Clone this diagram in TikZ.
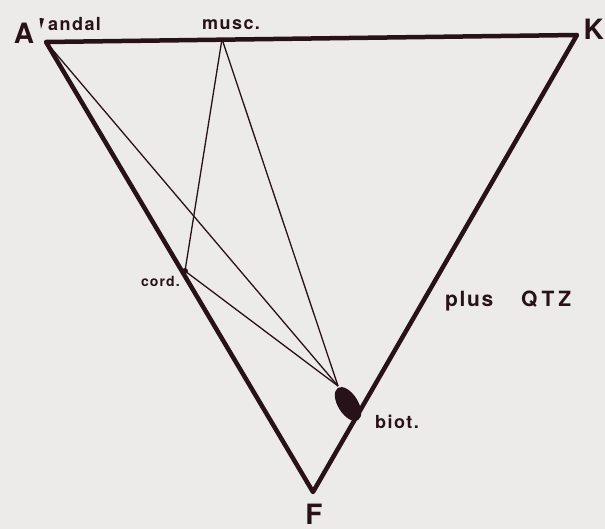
\documentclass[tikz,border=0pt]{standalone}
\usepackage{fontspec}
\newfontfamily\labfont[LetterSpace=8]{TeX Gyre Heros}
\definecolor{ink}{RGB}{38,18,24}
\definecolor{paper}{RGB}{237,235,234}
\tikzset{
  edge/.style={draw=ink,line width=4.5pt,line join=round,line cap=round},
  tie/.style={draw=ink,line width=1.3pt},
  lab/.style={text=ink,inner sep=0pt,font=\labfont\bfseries\fontsize{18}{18}\selectfont},
  biglab/.style={text=ink,inner sep=0pt,font=\labfont\bfseries\fontsize{28}{28}\selectfont}
}
\begin{document}
\begin{tikzpicture}[x=1pt,y=-1pt]
\fill[paper] (0,0) rectangle (605,529);
\useasboundingbox (0,0) rectangle (605,529);
% vertices
\coordinate (A) at (46,42);
\coordinate (K) at (577,35);
\coordinate (F) at (313,492);
\coordinate (musc) at (222,39);
\coordinate (cord) at (185,271);
\coordinate (biot) at (338,386);
% tie lines
\draw[tie] (musc) -- (cord);
\draw[tie] (musc) -- (biot);
\draw[tie] (A) -- (biot);
\draw[tie] (cord) -- (biot);
% triangle
\draw[edge] (A) -- (K) -- (F) -- cycle;
% phase points
\fill[ink] (cord) circle (3pt);
\fill[ink, rotate around={32:(348,404)}] (348,404) ellipse (10pt and 19pt);
% labels
\node[biglab] (lA) at (24,33) {A};
\fill[ink] (39.5,18) -- (44,18.5) -- (41,29) -- cycle;
\node[lab,anchor=base west] (landal) at (48,31) {andal};
\node[lab,anchor=base west] (lmusc) at (202,30) {musc.};
\node[biglab,anchor=base east] (lK) at (604,40) {K};
\node[biglab,anchor=base] (lF) at (314,524) {F};
\node[lab,font=\labfont\bfseries\fontsize{14}{14}\selectfont,anchor=base east] (lcord) at (180,287) {cord.};
\node[lab,font=\labfont\bfseries\fontsize{21}{21}\selectfont,anchor=base west] (lplus) at (445,307) {plus};
\node[lab,font=\labfont\bfseries\fontsize{21}{21}\selectfont,anchor=base west] (lqtz) at (521,307) {Q\kern4pt T\kern4pt Z};
\node[lab,anchor=base west] (lbiot) at (375,428) {biot.};
\end{tikzpicture}
\end{document}
